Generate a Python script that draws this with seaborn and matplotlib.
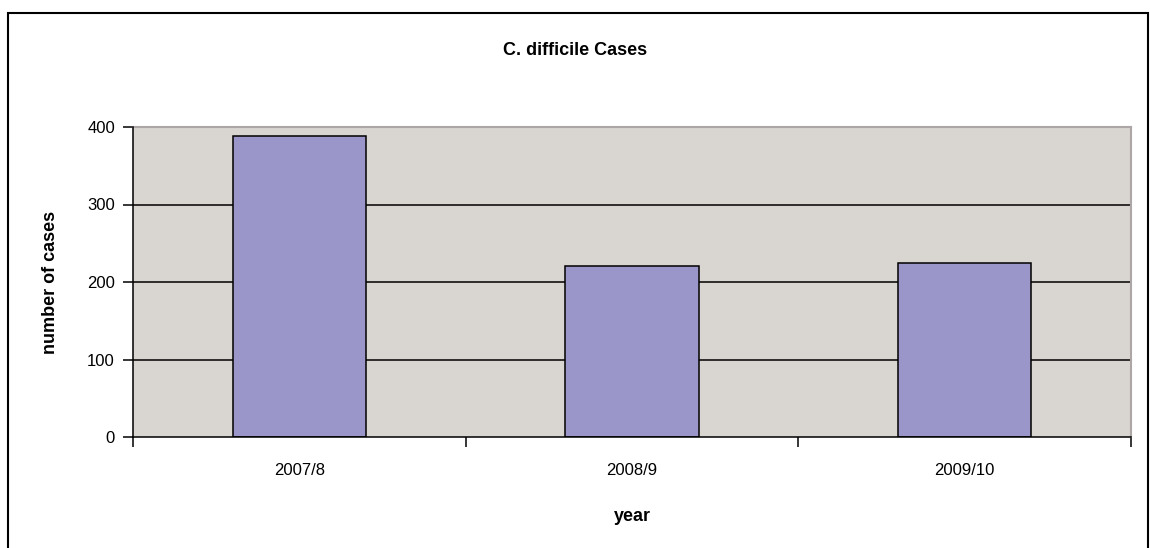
import matplotlib
matplotlib.use("Agg")
import matplotlib.pyplot as plt
import seaborn as sns
import pandas as pd
from matplotlib.patches import Rectangle

# Data
years = ["2007/8", "2008/9", "2009/10"]
cases = [388, 221, 225]
y_ticks = [0, 100, 200, 300, 400]

sns.set_theme(style="white")
plt.rcParams["font.family"] = ["Liberation Sans", "DejaVu Sans"]
plt.rcParams["text.color"] = "black"
plt.rcParams["axes.labelcolor"] = "black"
plt.rcParams["xtick.color"] = "black"
plt.rcParams["ytick.color"] = "black"

df = pd.DataFrame({"year": years, "cases": cases})

fig = plt.figure(figsize=(11.5, 5.48), dpi=100)
ax = fig.add_axes([133 / 1150, 1 - 437 / 548, (1131 - 133) / 1150, (437 - 127) / 548])
ax.set_facecolor("#D9D5D0")

sns.barplot(data=df, x="year", y="cases", color="#9B96C9", width=0.4,
            edgecolor="black", linewidth=1.1, saturation=1, ax=ax, zorder=3)

ax.set_ylim(0, 400)
ax.set_xlim(-0.5, len(years) - 0.5)
ax.set_yticks(y_ticks)
ax.set_yticklabels([str(t) for t in y_ticks], fontsize=12)
ax.tick_params(axis="y", direction="out", length=7, width=1.1, color="black", pad=6, left=True)

# Category ticks sit at the boundaries between groups
ax.set_xticks(range(len(years)))
ax.set_xticklabels(years, fontsize=12)
ax.tick_params(axis="x", which="major", length=0, pad=19)
ax.set_xticks([i - 0.5 for i in range(len(years) + 1)], minor=True)
ax.tick_params(axis="x", which="minor", direction="out", length=7, width=1.1, color="black", bottom=True)

# Horizontal gridlines
for t in y_ticks[1:-1]:
    ax.axhline(t, color="black", linewidth=1.1, zorder=1)

for s in ["top", "right"]:
    ax.spines[s].set_color("#ADA6A6")
    ax.spines[s].set_linewidth(1.5)
for s in ["left", "bottom"]:
    ax.spines[s].set_color("black")
    ax.spines[s].set_linewidth(1.1)
    ax.spines[s].set_zorder(5)

ax.set_xlabel("year", fontsize=13, fontweight="bold", labelpad=21)
ax.set_ylabel("number of cases", fontsize=13, fontweight="bold", labelpad=20)

fig.text(575 / 1150, 1 - 50 / 548, "C. difficile Cases", ha="center", va="center",
         fontsize=13, fontweight="bold")

# Chart-area border
fig.patches.append(Rectangle((8 / 1150, -0.01), (1148 - 8) / 1150, 1 - 13 / 548 + 0.01,
                             transform=fig.transFigure, fill=False,
                             edgecolor="black", linewidth=1.5))

fig.savefig("out.png", dpi=100, facecolor="white")
